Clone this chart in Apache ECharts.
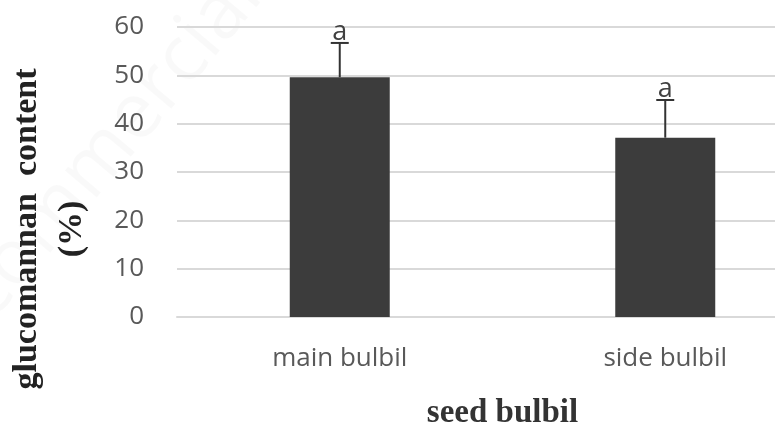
<!DOCTYPE html>
<html>
<head>
<meta charset="utf-8">
<script src="https://cdn.jsdelivr.net/npm/echarts@6/dist/echarts.min.js"></script>
<style>html,body{margin:0;padding:0;background:#fff;}#chart{width:775px;height:427px;}</style>
</head>
<body>
<div id="chart"></div>
<script>
const categories = ['main bulbil', 'side bulbil'];
const values = [49.6, 37.1];
const errors = [7.1, 7.8];
const letters = ['a', 'a'];
const yTicks = [0, 10, 20, 30, 40, 50, 60];
const yTitle = 'glucomannan  content\n(%)';
const xTitle = 'seed bulbil';

const chart = echarts.init(document.getElementById('chart'));
chart.setOption({
  animation: false,
  backgroundColor: '#ffffff',
  graphic: [{
    type: 'text', x: -110, y: 470, rotation: Math.PI * 50 / 180, silent: true, z: -10,
    style: { text: 'Non-commercial use only', fill: 'rgba(0,0,0,0.025)', font: '78px "Open Sans"', verticalAlign: 'bottom' }
  }, {
    type: 'text', x: 50, y: 229, rotation: Math.PI / 2, silent: true,
    style: { text: yTitle, fill: '#222', font: 'bold 34px "Liberation Serif"', align: 'center', verticalAlign: 'middle', lineHeight: 45 }
  }],
  grid: { left: 177, right: -53, top: 27, bottom: 110, outerBoundsMode: 'none', containLabel: false },
  xAxis: {
    type: 'category', data: categories,
    axisLine: { show: true, lineStyle: { color: '#d9d9d9', width: 2 } },
    axisTick: { show: false },
    axisLabel: { color: '#595959', fontSize: 26, fontFamily: 'Open Sans', margin: 29 },
    name: xTitle, nameLocation: 'middle', nameGap: 80,
    nameTextStyle: { fontFamily: 'Liberation Serif', fontWeight: 'bold', fontSize: 33, color: '#333' }
  },
  yAxis: {
    type: 'value', min: yTicks[0], max: yTicks[yTicks.length - 1], interval: 10,
    axisLine: { show: false }, axisTick: { show: false },
    splitLine: { lineStyle: { color: '#d9d9d9', width: 2 } },
    axisLabel: { color: '#595959', fontSize: 26, fontFamily: 'Open Sans', margin: 33 }
  },
  series: [{
    type: 'bar', data: values, barWidth: 100,
    itemStyle: { color: '#3c3c3c' }
  }, {
    type: 'custom',
    data: values.map((v, i) => [i, v, errors[i]]),
    renderItem: function (params, api) {
      const i = api.value(0), v = api.value(1), e = api.value(2);
      const p0 = api.coord([i, v]);
      const p1 = api.coord([i, v + e]);
      const hw = 9;
      return {
        type: 'group',
        children: [
          { type: 'line', shape: { x1: p0[0], y1: p0[1], x2: p1[0], y2: p1[1] }, style: { stroke: '#333', lineWidth: 2 } },
          { type: 'line', shape: { x1: p1[0] - hw, y1: p1[1], x2: p1[0] + hw, y2: p1[1] }, style: { stroke: '#333', lineWidth: 2 } },
          { type: 'text', x: p1[0], y: p1[1] + 3, style: { text: letters[params.dataIndex], fill: '#404040', font: '27px "Open Sans"', align: 'center', verticalAlign: 'bottom' } }
        ]
      };
    },
    z: 5
  }]
});
</script>
</body>
</html>
